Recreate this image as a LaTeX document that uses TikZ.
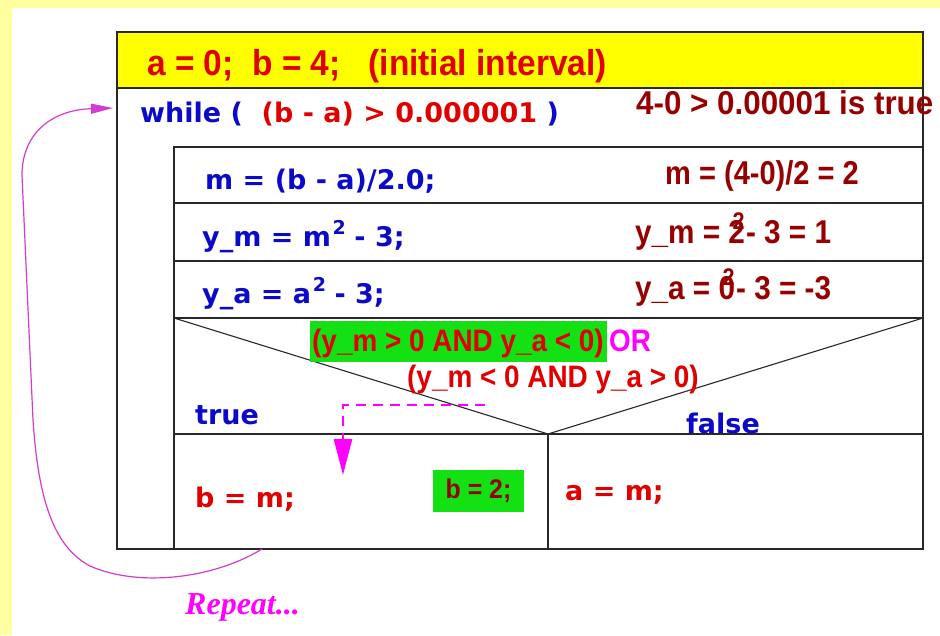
\documentclass[tikz,border=0pt]{standalone}
\usepackage{fontspec}
\setmainfont{Liberation Sans}
\newfontfamily\dvs{DejaVu Sans}
\newfontfamily\lsans{Liberation Sans}
\newfontfamily\lserif{Liberation Serif}
\usetikzlibrary{arrows.meta}
\definecolor{bgyel}{RGB}{255,255,160}
\definecolor{hdyel}{RGB}{255,255,0}
\definecolor{cblue}{RGB}{10,10,200}
\definecolor{cred}{RGB}{225,0,0}
\definecolor{dred}{RGB}{150,0,0}
\definecolor{cgreen}{RGB}{20,225,20}
\definecolor{cmag}{RGB}{255,0,255}
\definecolor{arcmag}{RGB}{210,60,210}
\definecolor{boxline}{RGB}{40,40,40}
\newcommand\mysup[2]{\raisebox{0.42em}{\fontsize{#1}{#1}\selectfont #2}}
\begin{document}
\begin{tikzpicture}[x=1pt,y=-1pt,
  frame/.style={draw=boxline, line width=1.8pt},
  thinline/.style={draw=boxline, line width=1.1pt},
  code/.style={anchor=base west, inner sep=0pt, text=cblue, font=\dvs\bfseries\fontsize{27}{30}\selectfont},
  ann/.style={anchor=base west, inner sep=0pt, text=dred, font=\lsans\bfseries\fontsize{33}{35}\selectfont},
  cond/.style={anchor=base west, inner sep=0pt, text=cred, font=\lsans\bfseries\fontsize{31}{33}\selectfont},
  dashedmag/.style={draw=cmag, line width=2.5pt, dash pattern=on 10pt off 7pt},
  arcline/.style={draw=arcmag, line width=1.2pt}
]
\useasboundingbox (0,0) rectangle (940,635);
\fill[bgyel] (0,0) rectangle (940,635);
\fill[white] (12,8) rectangle (940,635);
% structure chart
\fill[hdyel] (117,32) rectangle (923,88);
\draw[frame] (117,32) rectangle (923,549);
\draw[frame] (117,88) -- (923,88);
\draw[frame] (174,549) -- (174,147) -- (923,147);
\draw[frame] (174,203) -- (923,203);
\draw[frame] (174,261) -- (923,261);
\draw[frame] (174,318) -- (923,318);
\draw[frame] (174,434) -- (923,434);
\draw[frame] (548,434) -- (548,549);
\draw[thinline] (174,318) -- (548,434) -- (923,318);
% texts
\node[code, text=cred, font=\lsans\bfseries\fontsize{36}{38}\selectfont] (init) at (147,75) {\scalebox{0.93}[1]{a = 0;\ \ b = 4;\ \ \ (initial interval)}};
\node[code] (while) at (140,122) {while (\ \ \textcolor{cred}{(b - a) > 0.000001} )};
\node[ann] (ann0) at (636,114) {\scalebox{0.95}[1]{4-0 > 0.00001 is true}};
\node[ann] (ann1) at (665,184) {\scalebox{0.88}[1]{m = (4-0)/2 = 2}};
\node[code] (mstep) at (205,189) {m = (b - a)/2.0;};
\node[code] (ymstep) at (202,246) {y\_m = m\kern.06em\mysup{19}{2}\kern-.03em\ - 3;};
\node[ann] (ann2) at (635,243) {\scalebox{0.9}[1]{y\_m = 2\kern-.42em\mysup{24}{2}\kern.05em - 3 = 1}};
\node[code] (yastep) at (202,303) {y\_a = a\kern.06em\mysup{19}{2}\kern-.03em\ - 3;};
\node[ann] (ann3) at (635,299) {\scalebox{0.9}[1]{y\_a = 0\kern-.42em\mysup{24}{2}\kern.05em - 3 = -3}};
\fill[cgreen] (310,321) rectangle (607,362);
\node[cond] (c1) at (312,351) {\scalebox{0.9}[1]{(y\_m > 0 AND y\_a < 0)}};
\node[cond, text=cmag] (or) at ([xshift=5pt]c1.base east) {\scalebox{0.9}[1]{OR}};
\node[cond] (c2) at (407,387) {\scalebox{0.9}[1]{(y\_m < 0 AND y\_a > 0)}};
\node[code] (true) at (195,424) {true};
\node[code] (false) at (686,433) {false};
\node[code, text=cred] (bm) at (195,507) {b = m;};
\node[fill=cgreen, text=dred, minimum width=91pt, minimum height=42pt, inner sep=0pt, font=\lsans\bfseries\fontsize{27}{29}\selectfont] (b2) at (478.5,491) {\scalebox{0.92}[1]{b = 2;}};
\node[code, text=cred] (am) at (565,500) {a = m;};
% dashed arrow
\coordinate (dstart) at (485,405);
\coordinate (dcorner) at (343,405);
\coordinate (dend) at (343,475);
\draw[dashedmag, -{Triangle[length=36pt,width=18pt]}] (dstart) -- (dcorner) -- (dend);
% repeat arc
\coordinate (rstart) at (262,549);
\coordinate (rend) at (113,108);
\draw[arcline, -{Triangle[length=22pt,width=10pt]}] (rstart) .. controls (215,578) and (140,588) .. (90,566) .. controls (52,546) and (38,495) .. (33,420) -- (22,175) .. controls (22,135) and (50,110) .. (rend);
\node[anchor=base west, inner sep=0pt, text=cmag, font=\lserif\bfseries\itshape\fontsize{32}{34}\selectfont] (rep) at (185,614) {Repeat...};
\end{tikzpicture}
\end{document}
